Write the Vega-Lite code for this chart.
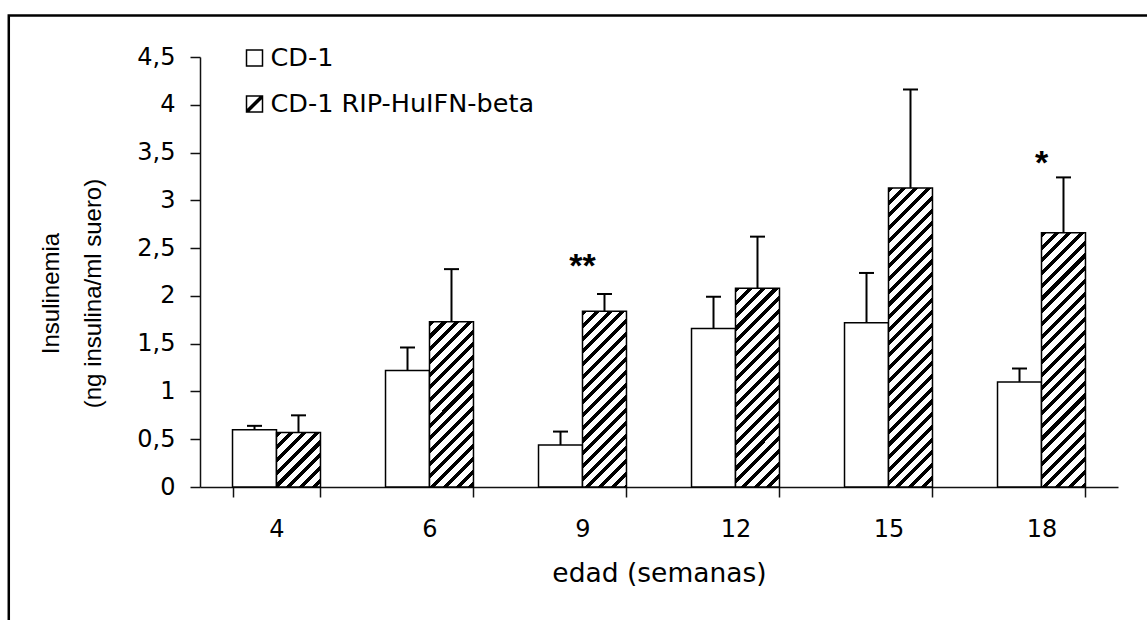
{
  "$schema": "https://vega.github.io/schema/vega-lite/v6.json",
  "width": 918,
  "height": 430,
  "autosize": {"type": "none"},
  "padding": {"left": 200, "top": 57, "right": 29, "bottom": 133},
  "background": "white",
  "params": [
    {"name": "hs", "value": [
      {"offset":0,"color":"#000"},{"offset":0.01333,"color":"#000"},{"offset":0.01333,"color":"#fff"},{"offset":0.03333,"color":"#fff"},
      {"offset":0.03333,"color":"#000"},{"offset":0.04667,"color":"#000"},{"offset":0.04667,"color":"#fff"},{"offset":0.06667,"color":"#fff"},
      {"offset":0.06667,"color":"#000"},{"offset":0.08,"color":"#000"},{"offset":0.08,"color":"#fff"},{"offset":0.1,"color":"#fff"},
      {"offset":0.1,"color":"#000"},{"offset":0.11333,"color":"#000"},{"offset":0.11333,"color":"#fff"},{"offset":0.13333,"color":"#fff"},
      {"offset":0.13333,"color":"#000"},{"offset":0.14667,"color":"#000"},{"offset":0.14667,"color":"#fff"},{"offset":0.16667,"color":"#fff"},
      {"offset":0.16667,"color":"#000"},{"offset":0.18,"color":"#000"},{"offset":0.18,"color":"#fff"},{"offset":0.2,"color":"#fff"},
      {"offset":0.2,"color":"#000"},{"offset":0.21333,"color":"#000"},{"offset":0.21333,"color":"#fff"},{"offset":0.23333,"color":"#fff"},
      {"offset":0.23333,"color":"#000"},{"offset":0.24667,"color":"#000"},{"offset":0.24667,"color":"#fff"},{"offset":0.26667,"color":"#fff"},
      {"offset":0.26667,"color":"#000"},{"offset":0.28,"color":"#000"},{"offset":0.28,"color":"#fff"},{"offset":0.3,"color":"#fff"},
      {"offset":0.3,"color":"#000"},{"offset":0.31333,"color":"#000"},{"offset":0.31333,"color":"#fff"},{"offset":0.33333,"color":"#fff"},
      {"offset":0.33333,"color":"#000"},{"offset":0.34667,"color":"#000"},{"offset":0.34667,"color":"#fff"},{"offset":0.36667,"color":"#fff"},
      {"offset":0.36667,"color":"#000"},{"offset":0.38,"color":"#000"},{"offset":0.38,"color":"#fff"},{"offset":0.4,"color":"#fff"},
      {"offset":0.4,"color":"#000"},{"offset":0.41333,"color":"#000"},{"offset":0.41333,"color":"#fff"},{"offset":0.43333,"color":"#fff"},
      {"offset":0.43333,"color":"#000"},{"offset":0.44667,"color":"#000"},{"offset":0.44667,"color":"#fff"},{"offset":0.46667,"color":"#fff"},
      {"offset":0.46667,"color":"#000"},{"offset":0.48,"color":"#000"},{"offset":0.48,"color":"#fff"},{"offset":0.5,"color":"#fff"},
      {"offset":0.5,"color":"#000"},{"offset":0.51333,"color":"#000"},{"offset":0.51333,"color":"#fff"},{"offset":0.53333,"color":"#fff"},
      {"offset":0.53333,"color":"#000"},{"offset":0.54667,"color":"#000"},{"offset":0.54667,"color":"#fff"},{"offset":0.56667,"color":"#fff"},
      {"offset":0.56667,"color":"#000"},{"offset":0.58,"color":"#000"},{"offset":0.58,"color":"#fff"},{"offset":0.6,"color":"#fff"},
      {"offset":0.6,"color":"#000"},{"offset":0.61333,"color":"#000"},{"offset":0.61333,"color":"#fff"},{"offset":0.63333,"color":"#fff"},
      {"offset":0.63333,"color":"#000"},{"offset":0.64667,"color":"#000"},{"offset":0.64667,"color":"#fff"},{"offset":0.66667,"color":"#fff"},
      {"offset":0.66667,"color":"#000"},{"offset":0.68,"color":"#000"},{"offset":0.68,"color":"#fff"},{"offset":0.7,"color":"#fff"},
      {"offset":0.7,"color":"#000"},{"offset":0.71333,"color":"#000"},{"offset":0.71333,"color":"#fff"},{"offset":0.73333,"color":"#fff"},
      {"offset":0.73333,"color":"#000"},{"offset":0.74667,"color":"#000"},{"offset":0.74667,"color":"#fff"},{"offset":0.76667,"color":"#fff"},
      {"offset":0.76667,"color":"#000"},{"offset":0.78,"color":"#000"},{"offset":0.78,"color":"#fff"},{"offset":0.8,"color":"#fff"},
      {"offset":0.8,"color":"#000"},{"offset":0.81333,"color":"#000"},{"offset":0.81333,"color":"#fff"},{"offset":0.83333,"color":"#fff"},
      {"offset":0.83333,"color":"#000"},{"offset":0.84667,"color":"#000"},{"offset":0.84667,"color":"#fff"},{"offset":0.86667,"color":"#fff"},
      {"offset":0.86667,"color":"#000"},{"offset":0.88,"color":"#000"},{"offset":0.88,"color":"#fff"},{"offset":0.9,"color":"#fff"},
      {"offset":0.9,"color":"#000"},{"offset":0.91333,"color":"#000"},{"offset":0.91333,"color":"#fff"},{"offset":0.93333,"color":"#fff"},
      {"offset":0.93333,"color":"#000"},{"offset":0.94667,"color":"#000"},{"offset":0.94667,"color":"#fff"},{"offset":0.96667,"color":"#fff"},
      {"offset":0.96667,"color":"#000"},{"offset":0.98,"color":"#000"},{"offset":0.98,"color":"#fff"},{"offset":1,"color":"#fff"}
    ]}
  ],
  "config": {
    "view": {"stroke": null},
    "font": "DejaVu Sans",
    "axis": {
      "labelFont": "DejaVu Sans", "titleFont": "DejaVu Sans",
      "labelFontSize": 24, "titleFontSize": 26.5,
      "labelColor": "black", "titleColor": "black",
      "domainColor": "#111", "tickColor": "#111",
      "domainWidth": 1.5, "tickWidth": 1.5,
      "titleFontWeight": "normal", "grid": false
    }
  },
  "datasets": {
    "bars": [
      {"edad": 4, "grupo": "CD-1", "valor": 0.60, "sup": 0.64},
      {"edad": 4, "grupo": "CD-1 RIP-HuIFN-beta", "valor": 0.57, "sup": 0.75},
      {"edad": 6, "grupo": "CD-1", "valor": 1.22, "sup": 1.46},
      {"edad": 6, "grupo": "CD-1 RIP-HuIFN-beta", "valor": 1.73, "sup": 2.28},
      {"edad": 9, "grupo": "CD-1", "valor": 0.44, "sup": 0.58},
      {"edad": 9, "grupo": "CD-1 RIP-HuIFN-beta", "valor": 1.84, "sup": 2.02},
      {"edad": 12, "grupo": "CD-1", "valor": 1.66, "sup": 1.99},
      {"edad": 12, "grupo": "CD-1 RIP-HuIFN-beta", "valor": 2.08, "sup": 2.62},
      {"edad": 15, "grupo": "CD-1", "valor": 1.72, "sup": 2.24},
      {"edad": 15, "grupo": "CD-1 RIP-HuIFN-beta", "valor": 3.13, "sup": 4.16},
      {"edad": 18, "grupo": "CD-1", "valor": 1.10, "sup": 1.24},
      {"edad": 18, "grupo": "CD-1 RIP-HuIFN-beta", "valor": 2.66, "sup": 3.24}
    ],
    "stars": [
      {"edad": 9, "txt": "**", "pos": 2.2},
      {"edad": 18, "txt": "*", "pos": 3.28}
    ]
  },
  "layer": [
    {
      "data": {"values": [{"marco": "borde"}]},
      "mark": {"type": "rect", "fill": null, "stroke": "black", "strokeWidth": 2.5, "clip": false},
      "encoding": {
        "x": {"datum": -0.2083, "type": "quantitative", "scale": {"domain": [0, 1], "nice": false, "zero": false}, "axis": null},
        "x2": {"datum": 1.5},
        "y": {"datum": 4.934, "type": "quantitative", "scale": {"domain": [0, 4.5], "nice": false}},
        "y2": {"datum": -2}
      }
    },
    {
      "layer": [
        {
          "data": {"name": "bars"},
          "mark": {"type": "bar", "stroke": "black", "strokeWidth": 1.5},
          "encoding": {
            "x": {
              "field": "edad", "type": "ordinal",
              "scale": {"paddingInner": 0.425, "paddingOuter": 0.2125},
              "axis": {"title": "edad (semanas)", "tickBand": "extent", "labelAngle": 0, "tickSize": 10, "labelPadding": 20, "titlePadding": 19}
            },
            "xOffset": {"field": "grupo", "type": "nominal", "sort": ["CD-1", "CD-1 RIP-HuIFN-beta"], "scale": {"paddingInner": 0, "paddingOuter": 0}},
            "y": {
              "field": "valor", "type": "quantitative",
              "scale": {"domain": [0, 4.5], "nice": false},
              "axis": {
                "title": ["Insulinemia", "(ng insulina/ml suero)"],
                "titleFont": "Liberation Sans", "titleFontSize": 24,
                "values": [0, 0.5, 1, 1.5, 2, 2.5, 3, 3.5, 4, 4.5],
                "labelExpr": "replace(format(datum.value, '.1~f'), '.', ',')",
                "tickSize": 10, "labelPadding": 15,
                "titleX": -149, "titleY": 236, "titleAngle": -90,
                "titleBaseline": "middle", "titleAlign": "center", "titleLineHeight": 42
              }
            },
            "fill": {"value": {"expr": "datum.grupo == 'CD-1' ? 'white' : {gradient: 'linear', x1: 0, y1: 0, x2: 381.8 * 44 / (44 * 44 + pow(scale('y', 0) - scale('y', datum.valor), 2)), y2: 381.8 * (scale('y', 0) - scale('y', datum.valor)) / (44 * 44 + pow(scale('y', 0) - scale('y', datum.valor), 2)), stops: hs}"}}
          }
        },
        {
          "data": {"name": "bars"},
          "mark": {"type": "rule", "color": "black", "strokeWidth": 2},
          "encoding": {
            "x": {"field": "edad", "type": "ordinal"},
            "xOffset": {"field": "grupo", "type": "nominal", "sort": ["CD-1", "CD-1 RIP-HuIFN-beta"]},
            "y": {"field": "valor", "type": "quantitative"},
            "y2": {"field": "sup"}
          }
        },
        {
          "data": {"name": "bars"},
          "mark": {"type": "tick", "orient": "horizontal", "color": "black", "size": 15, "thickness": 2, "opacity": 1},
          "encoding": {
            "x": {"field": "edad", "type": "ordinal"},
            "xOffset": {"field": "grupo", "type": "nominal", "sort": ["CD-1", "CD-1 RIP-HuIFN-beta"]},
            "y": {"field": "sup", "type": "quantitative"}
          }
        },
        {
          "data": {"name": "stars"},
          "mark": {"type": "text", "font": "Liberation Sans", "fontSize": 34, "fontWeight": "bold", "align": "center", "baseline": "alphabetic", "color": "black"},
          "encoding": {
            "x": {"field": "edad", "type": "ordinal"},
            "y": {"field": "pos", "type": "quantitative"},
            "text": {"field": "txt"}
          }
        },
        {
          "data": {"values": [{"grupo": "CD-1"}]},
          "mark": {"type": "point", "shape": "square", "size": 256, "filled": true, "fill": "white", "stroke": "black", "strokeWidth": 1.5, "opacity": 1, "dx": -4},
          "encoding": {
            "x": {"datum": 4, "type": "ordinal"},
            "xOffset": {"datum": "CD-1", "type": "nominal"},
            "y": {"datum": 4.489, "type": "quantitative"}
          }
        },
        {
          "data": {"values": [{"grupo": "CD-1 RIP-HuIFN-beta"}]},
          "mark": {"type": "point", "shape": "M-1,-1H1V1H-1Z M-1,1L1,-1 M-0.82,1L1,-0.82 M-1,0.82L0.82,-1", "size": 256, "filled": true, "fill": "white", "stroke": "black", "strokeWidth": 1.5, "opacity": 1, "dx": -4},
          "encoding": {
            "x": {"datum": 4, "type": "ordinal"},
            "xOffset": {"datum": "CD-1", "type": "nominal"},
            "y": {"datum": 4.008, "type": "quantitative"}
          }
        },
        {
          "data": {"values": [{"grupo": "CD-1"}]},
          "mark": {"type": "text", "font": "DejaVu Sans", "fontSize": 25.5, "align": "left", "baseline": "middle", "color": "black", "dx": 16},
          "encoding": {
            "x": {"datum": 4, "type": "ordinal"},
            "xOffset": {"datum": "CD-1", "type": "nominal"},
            "y": {"datum": 4.489, "type": "quantitative"},
            "text": {"field": "grupo"}
          }
        },
        {
          "data": {"values": [{"grupo": "CD-1 RIP-HuIFN-beta"}]},
          "mark": {"type": "text", "font": "DejaVu Sans", "fontSize": 25.5, "align": "left", "baseline": "middle", "color": "black", "dx": 16},
          "encoding": {
            "x": {"datum": 4, "type": "ordinal"},
            "xOffset": {"datum": "CD-1", "type": "nominal"},
            "y": {"datum": 4.008, "type": "quantitative"},
            "text": {"field": "grupo"}
          }
        }
      ]
    }
  ],
  "resolve": {"scale": {"x": "independent"}}
}
